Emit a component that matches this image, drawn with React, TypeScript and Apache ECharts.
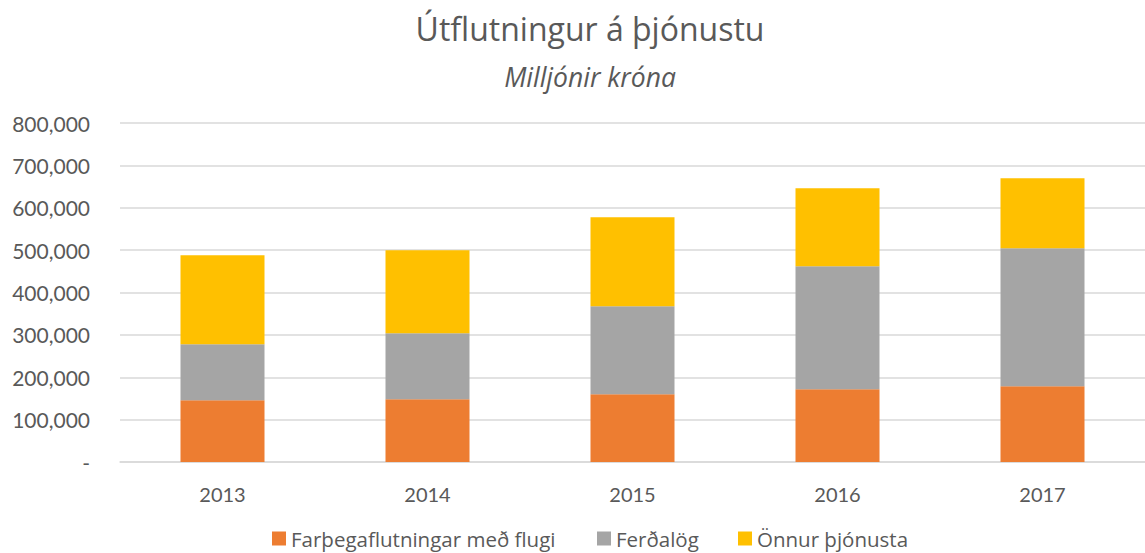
import React, { useEffect, useRef } from "react";
import * as echarts from "echarts";

const years = ["2013", "2014", "2015", "2016", "2017"];
const flug = [145600, 148000, 159800, 171600, 178700];
const ferdalog = [132200, 155700, 207700, 290300, 325700];
const onnur = [210000, 195900, 210000, 184100, 165200];
const seriesNames = ["Farþegaflutningar með flugi", "Ferðalög", "Önnur þjónusta"];
const colors = ["#ED7D31", "#A5A5A5", "#FFC000"];

const FONT = "Lato";
const FONT2 = "Open Sans";
const legendLefts = [272, 597, 738];

export default function App() {
  const ref = useRef<HTMLDivElement>(null);
  useEffect(() => {
    if (!ref.current) return;
    const chart = echarts.init(ref.current, undefined, { renderer: "svg" });
    const data = [flug, ferdalog, onnur];
    chart.setOption({
      animation: false,
      backgroundColor: "#ffffff",
      title: {
        text: "Útflutningur á þjónustu",
        subtext: "Milljónir króna",
        left: 585,
        top: 7,
        textAlign: "center",
        itemGap: 19,
        textStyle: { fontFamily: FONT2, fontSize: 32, fontWeight: "normal", color: "#595959" },
        subtextStyle: { fontFamily: FONT2, fontSize: 26.5, fontStyle: "italic", color: "#595959" },
      },
      legend: seriesNames.map((name, i) => ({
        left: legendLefts[i],
        top: 528,
        itemWidth: 14,
        itemHeight: 14,
        icon: "rect",
        padding: 0,
        textStyle: { fontFamily: FONT2, fontSize: 20.5, lineHeight: 18, color: "#595959", padding: [0, 0, 0, 0] },
        data: [name],
      })),
      grid: { left: 120, top: 123, width: 1036, height: 339 },
      xAxis: {
        type: "category",
        data: years,
        axisLine: { lineStyle: { color: "#d9d9d9", width: 1.5 } },
        axisTick: { show: false },
        axisLabel: { fontFamily: FONT, fontSize: 20, color: "#595959", margin: 22 },
      },
      yAxis: {
        type: "value",
        min: 0,
        max: 800000,
        interval: 100000,
        axisLine: { show: false },
        axisTick: { show: false },
        splitLine: { lineStyle: { color: "#d9d9d9", width: 1.5 } },
        axisLabel: {
          fontFamily: FONT,
          fontSize: 21,
          color: "#595959",
          margin: 30,
          formatter: (v: number) => (v === 0 ? "-" : v.toLocaleString("en-US")),
        },
      },
      series: seriesNames.map((name, i) => ({
        name,
        type: "bar",
        stack: "total",
        barWidth: 84,
        itemStyle: { color: colors[i] },
        data: data[i],
      })),
    });
    return () => chart.dispose();
  }, []);
  return (
    <div
      ref={ref}
      style={{ position: "fixed", left: 0, top: 0, width: 1145, height: 553, background: "#fff" }}
    />
  );
}
